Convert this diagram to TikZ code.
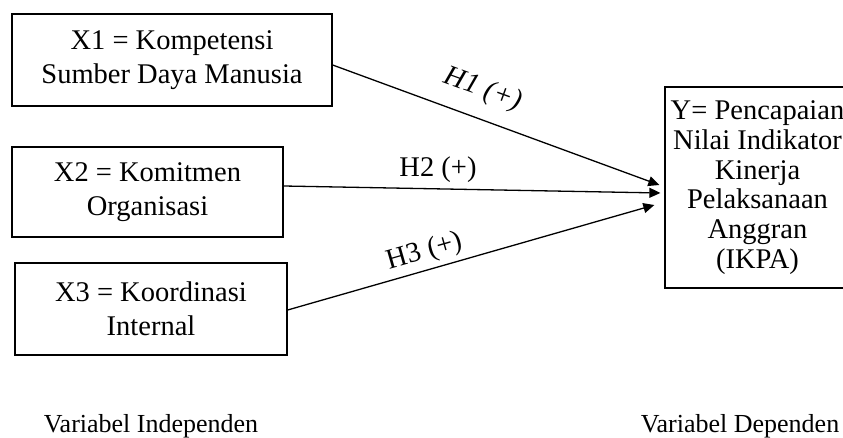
\documentclass[tikz,border=0pt]{standalone}
\usepackage{fontspec}
\setmainfont{Liberation Serif}
\usetikzlibrary{arrows.meta}
\begin{document}
\begin{tikzpicture}[x=1pt,y=-1pt,
  box/.style={draw=black,line width=1.3pt,align=center,inner sep=0pt,
    font=\fontsize{28.5}{34}\selectfont},
  ybox/.style={draw=black,line width=1.3pt,align=center,inner sep=0pt,
    font=\fontsize{28.5}{29.8}\selectfont},
  conn/.style={line width=1.3pt,-{Triangle[length=11pt,width=10pt]}},
  hlab/.style={font=\fontsize{28.5}{34}\selectfont,inner sep=0pt},
  foot/.style={font=\fontsize{26}{30}\selectfont,inner sep=0pt,anchor=base}]
\useasboundingbox (0,0) rectangle (843,438);
\node[box,minimum width=320pt,minimum height=92pt] (x1) at (172,60)
  {X1 = Kompetensi\\Sumber Daya Manusia};
\node[box,minimum width=271pt,minimum height=90pt] (x2) at (147.5,192)
  {X2 = Komitmen\\Organisasi};
\node[box,minimum width=272pt,minimum height=92pt] (x3) at (151,309)
  {X3 = Koordinasi\\Internal};
\node[ybox,minimum width=185pt,minimum height=201pt] (y) at (757.5,187.5)
  {Y= Pencapaian\\Nilai Indikator\\Kinerja\\Pelaksanaan\\Anggran\\(IKPA)};
\draw[conn] ([yshift=-5pt]x1.east) -- ([xshift=-5pt,yshift=2.5pt]y.west);
\draw[conn] ([yshift=6pt]x2.east) -- ([xshift=-4pt,yshift=-5.5pt]y.west);
\draw[conn] ([yshift=-1pt]x3.east) -- ([xshift=-10pt,yshift=-17.5pt]y.west);
\node[hlab,rotate=-20,font=\fontsize{28.5}{34}\selectfont\itshape] (h1) at (483,90) {H1 (+)};
\node[hlab] (h2) at (438,170) {H2 (+)};
\node[hlab,rotate=16] (h3) at (425,252) {H3 (+)};
\node[foot] (vi) at (151,432) {Variabel Independen};
\node[foot] (vd) at (740,432) {Variabel Dependen};
\end{tikzpicture}
\end{document}
